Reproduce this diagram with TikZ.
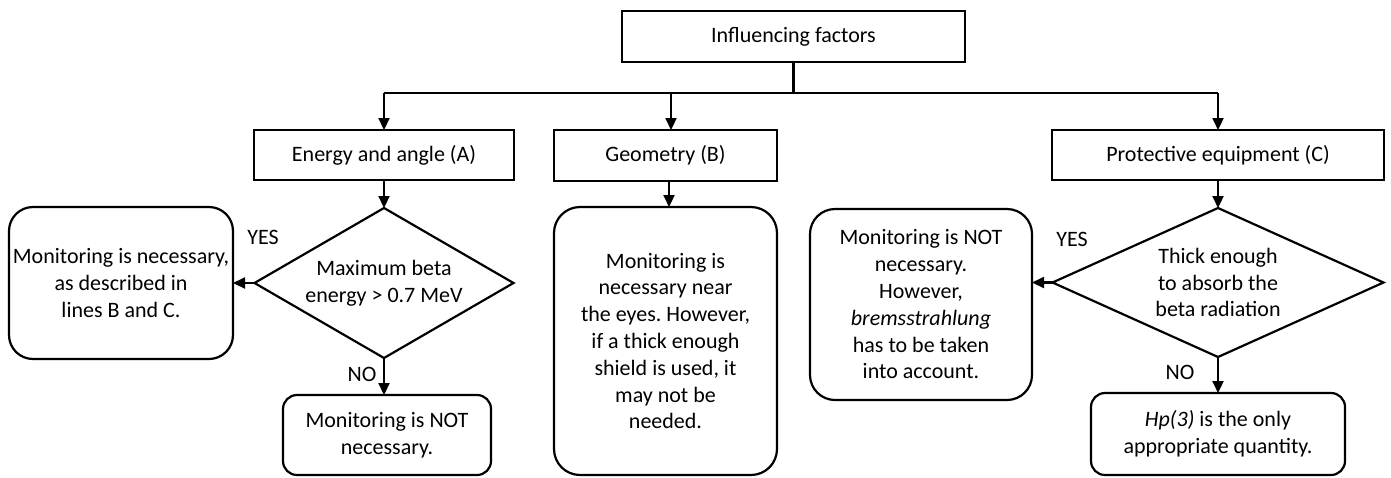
\documentclass[tikz,border=0pt]{standalone}
\usepackage{fontspec}
\setmainfont{Carlito}
\frenchspacing
\usetikzlibrary{shapes.geometric,arrows.meta}
\begin{document}
\begin{tikzpicture}[x=1pt,y=-1pt,
  every node/.style={font=\fontsize{22}{26.8}\selectfont, inner sep=0pt, outer sep=0pt, align=center},
  rbox/.style={draw, line width=2.2pt, rectangle},
  rnd/.style={draw, line width=2.2pt, rectangle, rounded corners=#1},
  dia/.style={draw, line width=2.2pt, diamond},
  lbl/.style={},
  conn/.style={line width=2.2pt},
  arr/.style={line width=2.2pt, -{Triangle[length=12pt,width=11pt]}}
]
\useasboundingbox (0,0) rectangle (1391,477);

% top box
\node[rbox, minimum width=343pt, minimum height=51pt] (top) at (793.5,36.5) {Influencing factors};

% level 2
\node[rbox, minimum width=260pt, minimum height=50pt] (energy) at (384,155) {Energy and angle (A)};
\node[rbox, minimum width=223pt, minimum height=51pt] (geo) at (665.5,155.5) {Geometry (B)};
\node[rbox, minimum width=332pt, minimum height=50pt] (prot) at (1218,155) {Protective equipment (C)};

% trunk
\coordinate (jA) at (384,93);
\coordinate (jB) at (671,93);
\coordinate (jC) at (1218,93);
\draw[conn] (top.south) -- (top.south |- jA);
\draw[conn] (jA) -- (jC);
\draw[arr] (jA) -- (energy.north);
\draw[arr] (jB) -- (jB |- geo.north);
\draw[arr] (jC) -- (prot.north);

% branch A
\node[dia, aspect=1.727, minimum width=259pt, minimum height=150pt] (diaA) at (384,283) {Maximum beta\\energy > 0.7 MeV};
\node[rnd=24pt, minimum width=224pt, minimum height=152pt] (yesA) at (121,283) {Monitoring is necessary,\\as described in\\lines B and C.};
\node[rnd=14pt, minimum width=208pt, minimum height=80pt] (notA) at (387,435) {Monitoring is NOT\\necessary.};
\draw[arr] (energy.south) -- (diaA.north);
\draw[arr] (diaA.west) -- (yesA.east);
\draw[arr] (diaA.south) -- (diaA.south |- notA.north);
\node[lbl] (yesAl) at (263,237) {YES};
\node[lbl] (noAl) at (362,374) {NO};

% branch B
\coordinate (gB) at (669,181);
\node[rnd=26pt, minimum width=223pt, minimum height=268pt] (geobox) at (665.5,341) {Monitoring is\\necessary near\\the eyes. However,\\if a thick enough\\shield is used, it\\may not be\\needed.};
\draw[arr] (gB) -- (gB |- geobox.north);

% branch C
\node[dia, aspect=2.22, minimum width=331pt, minimum height=149pt] (diaC) at (1218,282.5) {Thick enough\\to absorb the\\beta radiation};
\node[rnd=25pt, minimum width=222pt, minimum height=191pt] (yesC) at (921,304.5) {Monitoring is NOT\\necessary.\\However,\\\textit{bremsstrahlung}\\has to be taken\\into account.};
\node[rnd=14pt, minimum width=254pt, minimum height=82pt] (hp) at (1218,434) {\textit{Hp(3)} is the only\\appropriate quantity.};
\draw[arr] (prot.south) -- (diaC.north);
\draw[arr] (diaC.west) -- (diaC.west -| yesC.east);
\draw[arr] (diaC.south) -- (hp.north);
\node[lbl] (yesCl) at (1072,239) {YES};
\node[lbl] (noCl) at (1180,372) {NO};
\end{tikzpicture}
\end{document}
